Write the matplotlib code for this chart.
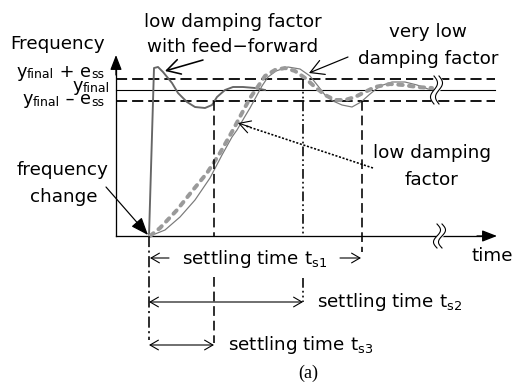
import numpy as np
import matplotlib.pyplot as plt

plt.rcParams['font.family'] = ['DejaVu Sans']
plt.rcParams['lines.scale_dashes'] = False
plt.rcParams['mathtext.default'] = 'regular'

# points of the three step responses (x, y in drawing units, y grows downward)
ff_x = [149, 154, 158, 163, 172, 178, 187, 195, 205, 212, 217, 225, 233, 243, 255, 265]
ff_y = [236, 68, 67, 72, 83, 93, 102, 107, 108, 105, 97, 90, 87, 87, 88, 90]

vlow_x = [150, 165, 180, 195, 210, 222, 232, 237, 244, 250, 256, 262, 268, 276, 288, 300,
          310, 318, 325, 333, 342, 352, 361, 370, 380, 392, 405, 417, 428, 434]
vlow_y = [236, 230, 217, 200, 178, 155, 137, 130, 118, 108, 97, 86, 77, 71, 67, 69,
          76, 86, 95, 101, 105, 107, 102, 94, 86, 82, 82, 85, 89, 90]

low_x = [150, 160, 177, 193, 207, 220, 233, 242, 250, 257, 265, 275, 285, 295, 305,
         315, 325, 335, 345, 355, 365, 375, 390, 403, 417, 432]
low_y = [236, 228, 210, 190, 173, 153, 130, 113, 98, 88, 76, 70, 68, 71, 78,
         87, 95, 100, 100, 97, 92, 87, 84, 85, 87, 88]

# reference levels and settling instants
y_upper, y_final, y_lower = 79, 90, 101
t_start, ts3, ts2, ts1 = 149, 214, 303, 362

fig = plt.figure(figsize=(5.14, 3.82), dpi=100)
ax = fig.add_axes([0, 0, 1, 1])
ax.set_xlim(0, 514)
ax.set_ylim(382, 0)
ax.axis('off')
renderer = fig.canvas.get_renderer()

k = 0.72  # px -> pt
fs = 13.2

# axes with arrow heads
ax.plot([116, 116], [236, 62], color='k', lw=1.3 * k)
ax.plot([116, 488], [236, 236], color='k', lw=1.3 * k)
head = dict(arrowstyle='-|>,head_length=0.9,head_width=0.35', color='k', lw=1.3 * k,
            mutation_scale=10, shrinkA=0, shrinkB=0)
ax.annotate('', xy=(116, 55), xytext=(116, 75), arrowprops=head)
ax.annotate('', xy=(497, 236), xytext=(477, 236), arrowprops=head)

# tolerance band and final value
for yy in (y_upper, y_lower):
    ln, = ax.plot([116, 495], [yy, yy], color='k', lw=1.8 * k)
    ln.set_dashes((8, 3.6))
ax.plot([116, 495], [y_final, y_final], color='k', lw=1.1 * k)

# responses
ax.plot(ff_x, ff_y, color='#666666', lw=1.9 * k, solid_joinstyle='round')
ax.plot(vlow_x, vlow_y, color='#7a7a7a', lw=1.2 * k, solid_joinstyle='round')
ln, = ax.plot(low_x, low_y, color='#9a9a9a', lw=4.0 * k, dash_capstyle='round')
ln.set_dashes((3.2, 4.6))


# axis breaks
def squiggle(xc, y0, y1):
    t = np.linspace(0, 1, 60)
    yy = y0 + (y1 - y0) * t
    xa = xc - 3 + 3.5 * np.sin(2 * np.pi * t)
    xb = xa + 5
    ax.fill_betweenx(yy, xa, xb, color='white', zorder=4)
    ax.plot(xa, yy, color='k', lw=1.1 * k, zorder=5)
    ax.plot(xb, yy, color='k', lw=1.1 * k, zorder=5)


squiggle(437, 76, 104)
squiggle(440, 224, 248)

# settling instants
ln, = ax.plot([t_start, t_start], [236, 340], color='k', lw=1.6 * k)
ln.set_dashes((8, 2.5, 1.5, 2.5))
for seg in ([y_lower, 236], [277, 343]):
    ln, = ax.plot([ts3, ts3], seg, color='k', lw=1.6 * k)
    ln.set_dashes((7, 3.5))
for seg in ([y_upper, 236], [278, 302]):
    ln, = ax.plot([ts2, ts2], seg, color='k', lw=1.6 * k)
    ln.set_dashes((7, 2.2, 1.3, 2.2, 1.3, 2.2))
ln, = ax.plot([ts1, ts1], [y_lower, 252], color='k', lw=1.6 * k)
ln.set_dashes((7, 3.5))

# settling time arrows
thin = dict(arrowstyle='->,head_length=0.6,head_width=0.35', color='k', lw=1.1 * k,
            mutation_scale=10, shrinkA=0, shrinkB=0)
both = dict(arrowstyle='<->,head_length=0.6,head_width=0.35', color='k', lw=1.1 * k,
            mutation_scale=10, shrinkA=0, shrinkB=0)
ax.annotate('', xy=(t_start + 1, 258), xytext=(169, 258), arrowprops=thin)
ax.annotate('', xy=(ts1 - 1, 258), xytext=(340, 258), arrowprops=thin)
ax.annotate('', xy=(t_start, 302), xytext=(ts2, 302), arrowprops=both)
ax.annotate('', xy=(t_start, 345), xytext=(ts3, 345), arrowprops=both)

ax.text(255, 264, r'settling time $t_{s1}$', fontsize=fs, ha='center', va='baseline')
ax.text(317, 307, r'settling time $t_{s2}$', fontsize=fs, ha='left', va='baseline')
ax.text(228, 350, r'settling time $t_{s3}$', fontsize=fs, ha='left', va='baseline')


# band labels: pieces of (text, size, baseline shift) laid out right to left
def band_label(x_right, base, pieces):
    x = x_right
    for txt, size, dy in reversed(pieces):
        t = ax.text(x, base + dy, txt, fontsize=size, ha='right', va='baseline')
        x -= t.get_window_extent(renderer).width


big, small = 12.8, 9
band_label(104, 77, [('y', big, 0), ('final', small, 1.5), (' + ', big, 0), ('e', big, 0),
                     ('ss', small, 1.5)])
band_label(110, 91, [('y', big, 0), ('final', small, 1.5)])
band_label(104, 104, [('y', big, 0), ('final', small, 1.5), (' – ', big, 0), ('e', big, 0),
                      ('ss', small, 1.5)])

# labels
ax.text(10, 49, 'Frequency', fontsize=fs, ha='left', va='baseline')
ax.text(492, 261, 'time', fontsize=fs, ha='center', va='baseline')

ax.text(233, 27, 'low damping factor', fontsize=fs, ha='center', va='baseline')
ax.text(233, 52, 'with feed\u2212forward', fontsize=fs, ha='center', va='baseline')
ax.text(428, 37, 'very low', fontsize=fs, ha='center', va='baseline')
ax.text(428, 64, 'damping factor', fontsize=fs, ha='center', va='baseline')
ax.text(432, 158, 'low damping', fontsize=fs, ha='center', va='baseline')
ax.text(432, 185, 'factor', fontsize=fs, ha='center', va='baseline')
ax.text(63, 175, 'frequency', fontsize=fs, ha='center', va='baseline')
ax.text(64, 202, 'change', fontsize=fs, ha='center', va='baseline')

ax.text(308, 378, '(a)', fontsize=13, ha='center', va='baseline', family='Liberation Serif')

# pointers to the curves
open_head = dict(arrowstyle='->,head_length=0.8,head_width=0.45', color='k', lw=1.6 * k,
                 mutation_scale=12, shrinkA=0, shrinkB=0)
ax.annotate('', xy=(165, 71), xytext=(203, 60), arrowprops=open_head)
ax.annotate('', xy=(309, 73), xytext=(348, 57), arrowprops=dict(open_head, lw=1.2 * k))
ax.annotate('', xy=(148, 235), xytext=(106, 187),
            arrowprops=dict(arrowstyle='-|>,head_length=0.9,head_width=0.35', color='k',
                            lw=1.2 * k, mutation_scale=12, shrinkA=0, shrinkB=0))
ln, = ax.plot([373, 246], [168, 126], color='k', lw=1.6 * k)
ln.set_dashes((1.5, 1.2))
ax.annotate('', xy=(238, 123), xytext=(250, 127),
            arrowprops=dict(open_head, lw=1.1 * k, mutation_scale=10))

fig.savefig('out.png', dpi=100)
